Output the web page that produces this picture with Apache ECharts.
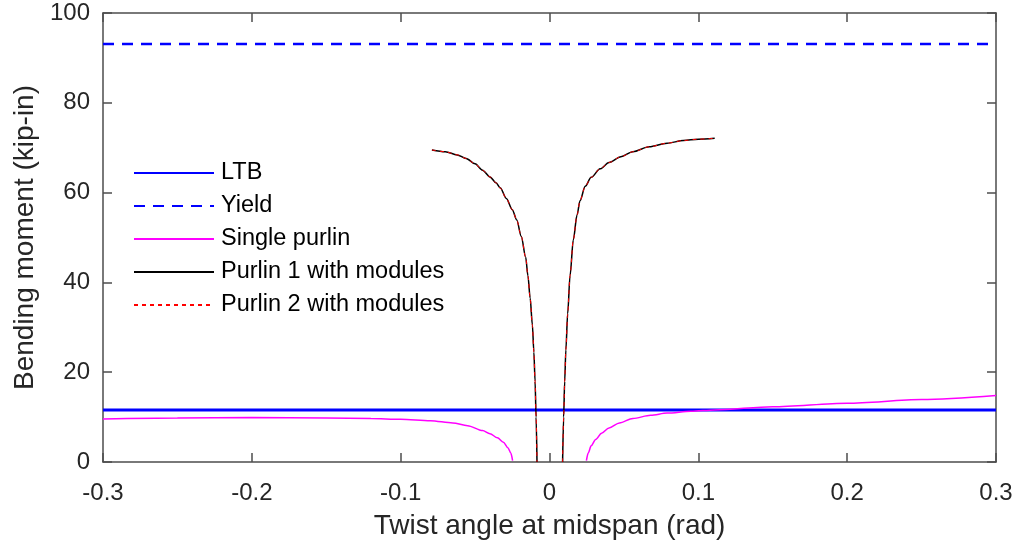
<!DOCTYPE html>
<html>
<head>
<meta charset="utf-8">
<script src="https://cdn.jsdelivr.net/npm/echarts@6/dist/echarts.min.js"></script>
<style>
  html, body { margin: 0; padding: 0; background: #fff; }
  #main { width: 1020px; height: 552px; }
</style>
</head>
<body>
<div id="main"></div>
<script>
// x tick values and limits
var xTicks = [-0.3, -0.2, -0.1, 0, 0.1, 0.2, 0.3];
var yTicks = [0, 20, 40, 60, 80, 100];

// constant reference lines (kip-in)
var ltbX = [-0.3, 0.3];
var ltbY = [11.6, 11.6];
var yieldX = [-0.3, 0.3];
var yieldY = [93.1, 93.1];

// single purlin, two branches
var singleLeftX = [-0.3, -0.25, -0.2, -0.15, -0.12, -0.1, -0.08, -0.065, -0.055, -0.045, -0.04, -0.035, -0.031, -0.028, -0.026, -0.0248];
var singleLeftY = [9.6, 9.8, 9.9, 9.8, 9.7, 9.5, 9.2, 8.7, 8.1, 7.0, 6.3, 5.4, 4.4, 3.2, 2.0, 0.3];
var singleRightX = [0.0248, 0.026, 0.028, 0.031, 0.035, 0.04, 0.047, 0.056, 0.068, 0.079, 0.095, 0.111, 0.15, 0.2, 0.25, 0.3];
var singleRightY = [0.3, 2.0, 3.6, 5.0, 6.4, 7.6, 8.7, 9.7, 10.4, 10.9, 11.3, 11.6, 12.3, 13.1, 13.9, 14.8];

// purlin 1 with modules, two branches
var p1LeftX = [-0.079, -0.07, -0.062, -0.056, -0.05, -0.045, -0.04, -0.036, -0.033, -0.029, -0.025, -0.022, -0.019, -0.016, -0.0145, -0.013, -0.0115, -0.0105, -0.0097, -0.009, -0.0084];
var p1LeftY = [69.5, 69.1, 68.4, 67.6, 66.4, 65.0, 63.5, 62.2, 61.0, 58.7, 56.2, 53.9, 50.3, 45.6, 41.5, 36.5, 30.5, 24.5, 18.0, 10.0, 0];
var p1RightX = [0.0088, 0.0095, 0.0102, 0.011, 0.0122, 0.0138, 0.016, 0.0185, 0.0205, 0.024, 0.028, 0.034, 0.04, 0.048, 0.056, 0.067, 0.079, 0.09, 0.1, 0.111];
var p1RightY = [0, 10.0, 18.0, 25.0, 33.0, 41.5, 49.5, 55.0, 58.2, 61.4, 63.4, 65.3, 66.7, 68.0, 69.1, 70.2, 71.0, 71.6, 71.9, 72.1];

// purlin 2 with modules (coincides with purlin 1)
var p2LeftX = p1LeftX.slice();
var p2LeftY = p1LeftY.slice();
var p2RightX = p1RightX.slice();
var p2RightY = p1RightY.slice();

function pairs(xs, ys) {
  return xs.map(function (x, i) { return [x, ys[i]]; });
}
function branches(lx, ly, rx, ry) {
  return pairs(lx, ly).concat([[0, '-']], pairs(rx, ry));
}

var axisColor = '#4d4d4d';
var labelColor = '#262626';
var font = 'Liberation Sans, Arial, sans-serif';

var chart = echarts.init(document.getElementById('main'));
chart.setOption({
  animation: false,
  backgroundColor: '#fff',
  grid: { left: 103, right: 24, top: 13, bottom: 90, containLabel: false },
  legend: {
    orient: 'vertical',
    left: 133,
    top: 161,
    padding: 0,
    itemWidth: 80,
    itemHeight: 14,
    itemGap: 9,
    itemStyle: { opacity: 0 },
    textStyle: { fontSize: 23.5, lineHeight: 24, color: '#000', fontFamily: font, padding: [0, 0, 0, 2] },
    data: ['LTB', 'Yield', 'Single purlin', 'Purlin 1 with modules', 'Purlin 2 with modules']
  },
  xAxis: [{
    type: 'value',
    min: -0.3, max: 0.3, interval: 0.1,
    name: 'Twist angle at midspan (rad)',
    nameLocation: 'middle',
    nameGap: 50,
    nameTextStyle: { fontSize: 28, color: labelColor, fontFamily: font },
    axisLine: { show: true, onZero: false, lineStyle: { color: axisColor, width: 1.5 } },
    axisTick: { show: true, inside: true, length: 9, lineStyle: { color: axisColor, width: 1.5 } },
    axisLabel: {
      fontSize: 24, color: labelColor, margin: 19, fontFamily: font,
      formatter: function (v) { var r = Math.round(v * 10) / 10; return r === 0 ? '0' : String(r); }
    },
    splitLine: { show: false }
  }, {
    type: 'value', position: 'top',
    min: -0.3, max: 0.3, interval: 0.1,
    axisLine: { show: true, onZero: false, lineStyle: { color: axisColor, width: 1.5 } },
    axisTick: { show: true, inside: true, length: 9, lineStyle: { color: axisColor, width: 1.5 } },
    axisLabel: { show: false },
    splitLine: { show: false }
  }],
  yAxis: [{
    type: 'value',
    min: 0, max: 100, interval: 20,
    name: 'Bending moment (kip-in)',
    nameLocation: 'middle',
    nameGap: 60,
    nameTextStyle: { fontSize: 28, color: labelColor, fontFamily: font },
    axisLine: { show: true, onZero: false, lineStyle: { color: axisColor, width: 1.5 } },
    axisTick: { show: true, inside: true, length: 9, lineStyle: { color: axisColor, width: 1.5 } },
    axisLabel: { fontSize: 24, color: labelColor, margin: 13, fontFamily: font },
    splitLine: { show: false }
  }, {
    type: 'value', position: 'right',
    min: 0, max: 100, interval: 20,
    axisLine: { show: true, onZero: false, lineStyle: { color: axisColor, width: 1.5 } },
    axisTick: { show: true, inside: true, length: 9, lineStyle: { color: axisColor, width: 1.5 } },
    axisLabel: { show: false },
    splitLine: { show: false }
  }],
  series: [{
    name: 'LTB', type: 'line', symbol: 'none',
    data: pairs(ltbX, ltbY),
    lineStyle: { color: '#0000ff', width: 3 },
    itemStyle: { color: '#0000ff' }
  }, {
    name: 'Yield', type: 'line', symbol: 'none',
    data: pairs(yieldX, yieldY),
    lineStyle: { color: '#0000ff', width: 2.5, type: [11, 8] },
    itemStyle: { color: '#0000ff' }
  }, {
    name: 'Single purlin', type: 'line', symbol: 'none',
    smooth: 0.3, smoothMonotone: 'x',
    data: branches(singleLeftX, singleLeftY, singleRightX, singleRightY),
    lineStyle: { color: '#ff00ff', width: 1.5 },
    itemStyle: { color: '#ff00ff' }
  }, {
    name: 'Purlin 1 with modules', type: 'line', symbol: 'none',
    smooth: 0.3, smoothMonotone: 'x',
    data: branches(p1LeftX, p1LeftY, p1RightX, p1RightY),
    lineStyle: { color: '#000000', width: 1.5 },
    itemStyle: { color: '#000000' }
  }, {
    name: 'Purlin 2 with modules', type: 'line', symbol: 'none',
    smooth: 0.3, smoothMonotone: 'x',
    data: branches(p2LeftX, p2LeftY, p2RightX, p2RightY),
    lineStyle: { color: '#ff0000', width: 1, type: [4, 4] },
    itemStyle: { color: '#ff0000' }
  }]
});
</script>
</body>
</html>
